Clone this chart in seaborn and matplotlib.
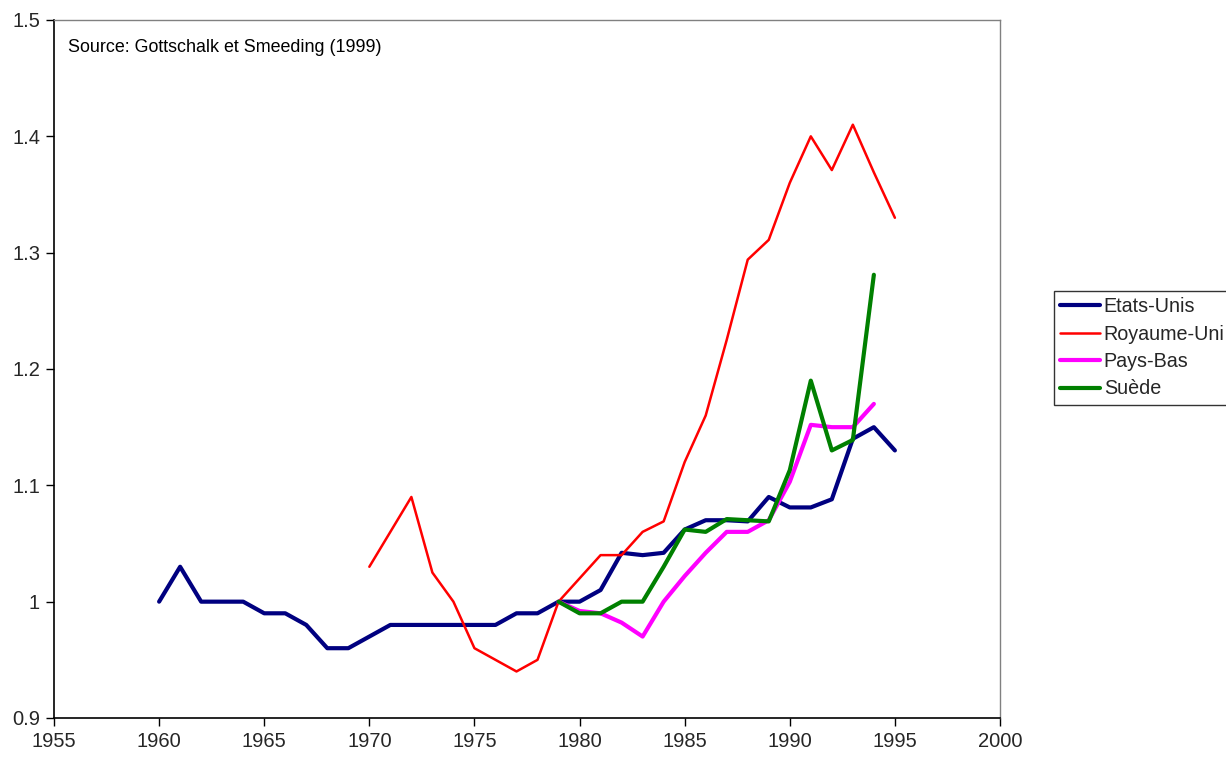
import numpy as np
import pandas as pd
import matplotlib
matplotlib.use("Agg")
import matplotlib.pyplot as plt
import seaborn as sns

# ---- data ----
years_us = list(range(1960, 1996))
etats_unis = [1.00, 1.03, 1.00, 1.00, 1.00, 0.99, 0.99, 0.98, 0.96, 0.96,
              0.97, 0.98, 0.98, 0.98, 0.98, 0.98, 0.98, 0.99, 0.99, 1.00,
              1.00, 1.01, 1.042, 1.04, 1.042, 1.062, 1.07, 1.07, 1.069, 1.09,
              1.081, 1.081, 1.088, 1.14, 1.15, 1.13]

years_uk = list(range(1970, 1996))
royaume_uni = [1.03, 1.06, 1.09, 1.025, 1.00, 0.96, 0.95, 0.94, 0.95, 1.00,
               1.02, 1.04, 1.04, 1.06, 1.069, 1.12, 1.16, 1.225, 1.294, 1.311,
               1.36, 1.40, 1.371, 1.41, 1.369, 1.33]

years_nl = list(range(1979, 1995))
pays_bas = [1.00, 0.992, 0.99, 0.982, 0.97, 1.00, 1.022, 1.042, 1.06, 1.06,
            1.07, 1.103, 1.152, 1.15, 1.15, 1.17]

years_se = list(range(1979, 1995))
suede = [1.00, 0.99, 0.99, 1.00, 1.00, 1.03, 1.062, 1.06, 1.071, 1.07,
         1.069, 1.113, 1.19, 1.13, 1.139, 1.281]

series_names = ["Etats-Unis", "Royaume-Uni", "Pays-Bas", "Suède"]
series_colors = ["#000080", "#FF0000", "#FF00FF", "#008000"]
series_widths = [3.0, 1.8, 3.0, 3.0]

x_ticks = [1955, 1960, 1965, 1970, 1975, 1980, 1985, 1990, 1995, 2000]
y_ticks = [0.9, 1.0, 1.1, 1.2, 1.3, 1.4, 1.5]
y_tick_labels = ["0.9", "1", "1.1", "1.2", "1.3", "1.4", "1.5"]

source_text = "Source: Gottschalk et Smeeding (1999)"

# ---- build table ----
frames = []
for name, yrs, vals in zip(series_names,
                           [years_us, years_uk, years_nl, years_se],
                           [etats_unis, royaume_uni, pays_bas, suede]):
    frames.append(pd.DataFrame({"year": yrs, "value": vals, "pays": name}))
df = pd.concat(frames, ignore_index=True)

# ---- plot ----
sns.set_theme(style="white")
plt.rcParams["font.family"] = ["Liberation Sans", "DejaVu Sans"]

fig = plt.figure(figsize=(12.26, 7.58), dpi=100)
ax = fig.add_axes([54 / 1226, 1 - 718 / 758, (1000 - 54) / 1226, (718 - 20) / 758])

for name, col, lw in zip(series_names, series_colors, series_widths):
    sub = df[df["pays"] == name]
    sns.lineplot(data=sub, x="year", y="value", ax=ax, color=col,
                 linewidth=lw, label=name, legend=False,
                 solid_capstyle="round", solid_joinstyle="round")

ax.set_xlim(1955, 2000)
ax.set_ylim(0.9, 1.5)
ax.set_xticks(x_ticks)
ax.set_xticklabels([str(t) for t in x_ticks])
ax.set_yticks(y_ticks)
ax.set_yticklabels(y_tick_labels)
ax.set_xlabel("")
ax.set_ylabel("")
ax.tick_params(axis="both", direction="out", length=6, width=1,
               color="black", labelsize=14.5, pad=4, bottom=True, left=True)

for side in ["top", "right"]:
    ax.spines[side].set_color("#808080")
    ax.spines[side].set_linewidth(1.0)
for side in ["left", "bottom"]:
    ax.spines[side].set_color("black")
    ax.spines[side].set_linewidth(1.2)

ax.text(0.0148, 0.9613, source_text, transform=ax.transAxes, fontsize=12.9,
        ha="left", va="center", color="black")

lines = ax.get_lines()
leg = fig.legend(handles=lines[:4], labels=series_names,
                 loc="upper left", bbox_to_anchor=(1054 / 1226, 1 - 291 / 758),
                 frameon=True, fancybox=False, fontsize=14.2,
                 handlelength=2.0, handletextpad=0.2, labelspacing=0.425,
                 borderpad=0.32, borderaxespad=0.0)
leg.get_frame().set_edgecolor("black")
leg.get_frame().set_linewidth(1.0)
for lh in leg.get_lines():
    lh.set_solid_capstyle("round")

fig.savefig("out.png", dpi=100, facecolor="white")
